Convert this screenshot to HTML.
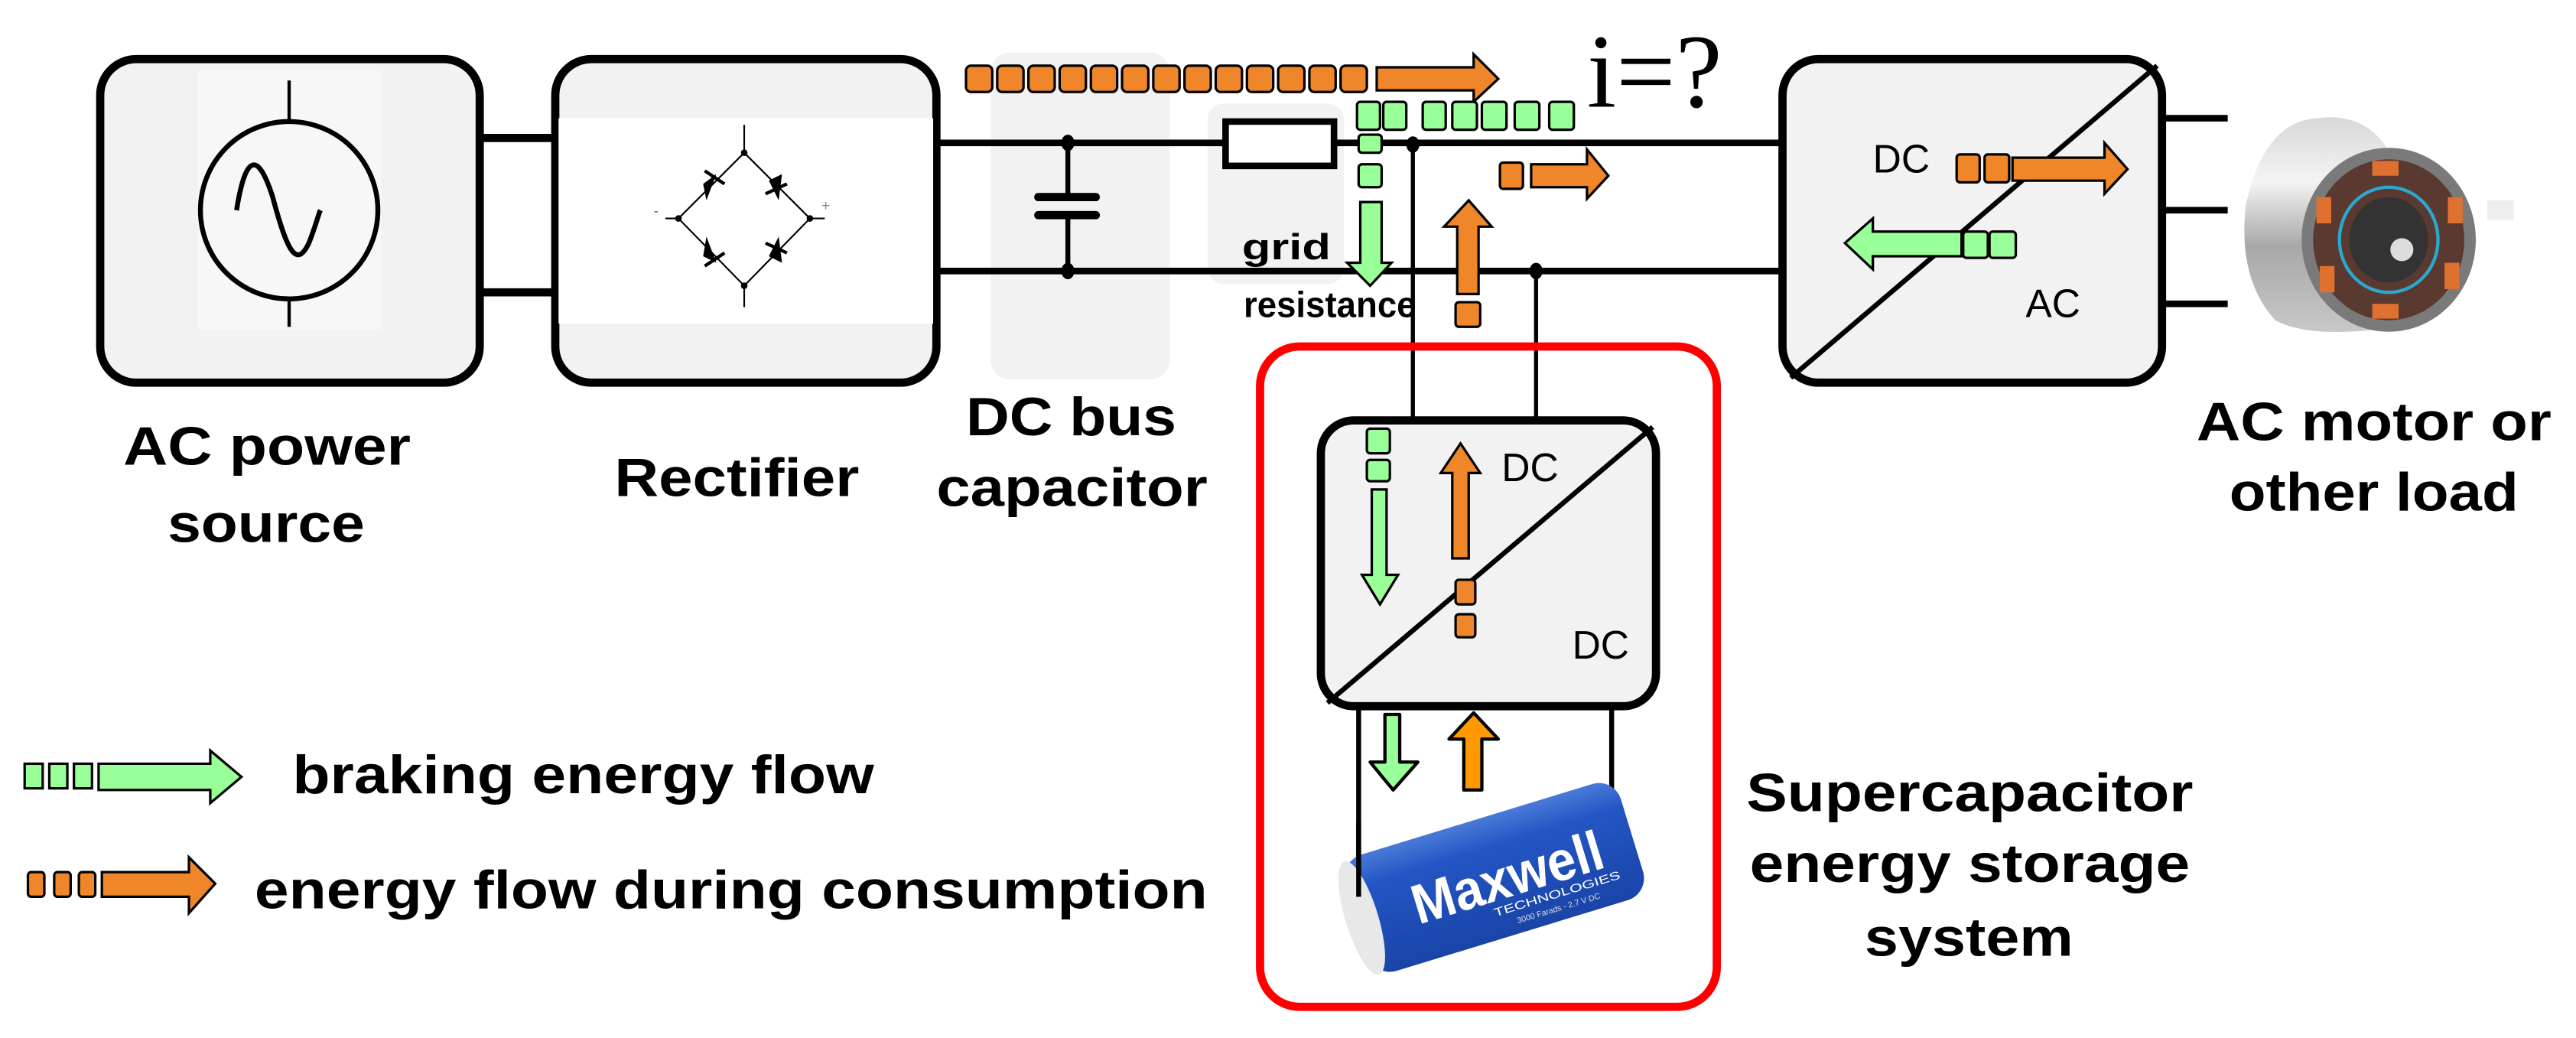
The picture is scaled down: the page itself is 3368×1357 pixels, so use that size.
<!DOCTYPE html>
<html><head><meta charset="utf-8"><style>
html,body{margin:0;padding:0;background:#fff;}
svg{display:block;}
text{font-family:"Liberation Sans",Arial,sans-serif;}
.lb{font-weight:bold;font-size:33px;fill:#000;}
</style></head><body>
<svg width="3368" height="1357" viewBox="0 0 1568 632" preserveAspectRatio="none" xmlns="http://www.w3.org/2000/svg">
<defs>
<linearGradient id="silver" x1="0" y1="0" x2="0" y2="1">
<stop offset="0" stop-color="#d8d8d8"/><stop offset="0.3" stop-color="#f4f4f4"/><stop offset="0.6" stop-color="#a8a8a8"/><stop offset="1" stop-color="#c8c8c8"/>
</linearGradient>
<linearGradient id="blue" x1="0" y1="0" x2="0" y2="1">
<stop offset="0" stop-color="#4a7ad8"/><stop offset="0.25" stop-color="#2356c4"/><stop offset="1" stop-color="#1a44a8"/>
</linearGradient>
</defs>

<rect x="603" y="32" width="109" height="199" rx="12" fill="#f2f2f2"/>
<rect x="735" y="63" width="83" height="110" rx="10" fill="#f2f2f2"/>

<rect x="61" y="36" width="231" height="197" rx="22" fill="#f2f2f2" stroke="#000" stroke-width="5"/>
<rect x="120" y="43" width="112" height="158" fill="#f7f7f7"/>
<line x1="176" y1="49" x2="176" y2="74" stroke="#000" stroke-width="2"/>
<line x1="176" y1="182" x2="176" y2="199" stroke="#000" stroke-width="2"/>
<ellipse cx="176" cy="128" rx="54" ry="54" fill="none" stroke="#000" stroke-width="3"/>
<path d="M144 128 C150 90 158 95 166 120 C174 150 180 165 188 148 C192 138 194 130 195 128" fill="none" stroke="#000" stroke-width="3"/>

<line x1="292" y1="84" x2="338" y2="84" stroke="#000" stroke-width="5"/>
<line x1="292" y1="178" x2="338" y2="178" stroke="#000" stroke-width="5"/>

<rect x="338" y="36" width="232" height="197" rx="22" fill="#f2f2f2" stroke="#000" stroke-width="5"/>
<rect x="340" y="72" width="228" height="125" fill="#fff"/>
<g stroke="#000" stroke-width="1" fill="none">
<path d="M453 93 L493 133 L453 174 L413 133 Z"/>
<line x1="453" y1="76" x2="453" y2="93"/><line x1="453" y1="174" x2="453" y2="187"/>
<line x1="405" y1="133" x2="413" y2="133"/><line x1="493" y1="133" x2="502" y2="133"/>
</g>
<g fill="#000">
<circle cx="453" cy="93" r="2"/><circle cx="453" cy="174" r="2"/><circle cx="413" cy="133" r="2"/><circle cx="493" cy="133" r="2"/>
<polygon points="428,112 436,106 430,122"/><line x1="429" y1="104" x2="441" y2="112" stroke="#000" stroke-width="2"/>
<polygon points="468,110 476,106 474,122"/><line x1="466" y1="118" x2="479" y2="112" stroke="#000" stroke-width="2"/>
<polygon points="428,156 436,160 430,144"/><line x1="429" y1="162" x2="441" y2="154" stroke="#000" stroke-width="2"/>
<polygon points="468,156 476,160 474,144"/><line x1="466" y1="148" x2="479" y2="154" stroke="#000" stroke-width="2"/>
</g>
<text x="398" y="131" font-size="8" fill="#555">-</text>
<text x="500" y="128" font-size="9" fill="#888">+</text>

<line x1="570" y1="87" x2="745" y2="87" stroke="#000" stroke-width="4"/>
<line x1="812" y1="87" x2="1085" y2="87" stroke="#000" stroke-width="4"/>
<line x1="570" y1="165" x2="1085" y2="165" stroke="#000" stroke-width="4"/>
<line x1="650" y1="87" x2="650" y2="120" stroke="#000" stroke-width="3"/>
<line x1="650" y1="130" x2="650" y2="165" stroke="#000" stroke-width="3"/>
<line x1="632" y1="120" x2="667" y2="120" stroke="#000" stroke-width="5" stroke-linecap="round"/>
<line x1="632" y1="131" x2="667" y2="131" stroke="#000" stroke-width="5" stroke-linecap="round"/>
<ellipse cx="650" cy="87" rx="4" ry="5"/><ellipse cx="650" cy="165" rx="4" ry="5"/>
<rect x="746" y="74" width="66" height="27" fill="#fff" stroke="#000" stroke-width="4"/>

<line x1="860" y1="87" x2="860" y2="256" stroke="#000" stroke-width="2.5"/>
<line x1="935" y1="165" x2="935" y2="256" stroke="#000" stroke-width="2.5"/>
<ellipse cx="860" cy="88" rx="4" ry="5"/><ellipse cx="935" cy="165" rx="4" ry="5"/>

<rect x="1085" y="36" width="231" height="197" rx="22" fill="#f2f2f2" stroke="#000" stroke-width="5"/>
<line x1="1090" y1="230" x2="1313" y2="40" stroke="#000" stroke-width="3"/>
<text x="1140" y="105" font-size="24" fill="#000">DC</text>
<text x="1233" y="193" font-size="24" fill="#000">AC</text>
<line x1="1316" y1="72" x2="1356" y2="72" stroke="#000" stroke-width="4"/>
<line x1="1316" y1="128" x2="1356" y2="128" stroke="#000" stroke-width="4"/>
<line x1="1316" y1="185" x2="1356" y2="185" stroke="#000" stroke-width="4"/>

<path d="M1410 72 Q1378 74 1367 125 Q1362 170 1385 195 Q1405 206 1452 200 L1454 92 Q1440 68 1410 72 Z" fill="url(#silver)"/>
<ellipse cx="1454" cy="146" rx="53" ry="56" fill="#7a7a7a"/>
<ellipse cx="1454" cy="146" rx="46" ry="49" fill="#5a3a30"/>
<g fill="#e07030">
<rect x="1444" y="98" width="16" height="9"/><rect x="1444" y="185" width="16" height="9"/>
<rect x="1410" y="120" width="9" height="16"/><rect x="1490" y="120" width="9" height="16"/>
<rect x="1412" y="162" width="9" height="16"/><rect x="1488" y="160" width="9" height="16"/>
</g>
<ellipse cx="1454" cy="146" rx="30" ry="32" fill="none" stroke="#2aa8d0" stroke-width="2"/>
<ellipse cx="1454" cy="146" rx="24" ry="26" fill="#333"/>
<circle cx="1462" cy="152" r="7" fill="#ddd"/>
<rect x="1514" y="122" width="16" height="12" fill="#eee"/>

<text x="966" y="65" style="font-family:'Liberation Serif',serif;font-size:64px" fill="#000">i=?</text>

<g fill="#f0862a" stroke="#000" stroke-width="1.5">
<rect x="588" y="40" width="16" height="16" rx="3"/><rect x="607" y="40" width="16" height="16" rx="3"/>
<rect x="626" y="40" width="16" height="16" rx="3"/><rect x="645" y="40" width="16" height="16" rx="3"/>
<rect x="664" y="40" width="16" height="16" rx="3"/><rect x="683" y="40" width="16" height="16" rx="3"/>
<rect x="702" y="40" width="16" height="16" rx="3"/><rect x="721" y="40" width="16" height="16" rx="3"/>
<rect x="740" y="40" width="16" height="16" rx="3"/><rect x="759" y="40" width="16" height="16" rx="3"/>
<rect x="778" y="40" width="16" height="16" rx="3"/><rect x="797" y="40" width="16" height="16" rx="3"/>
<rect x="816" y="40" width="16" height="16" rx="3"/>
<polygon points="838,41 897,41 897,33 912,48 897,62 897,55 838,55"/>
</g>
<g fill="#99ff99" stroke="#000" stroke-width="1.5">
<rect x="826" y="62" width="14" height="17" rx="2"/><rect x="842" y="62" width="14" height="17" rx="2"/>
<rect x="866" y="62" width="14" height="17" rx="2"/><rect x="884" y="62" width="15" height="17" rx="2"/>
<rect x="902" y="62" width="15" height="17" rx="2"/><rect x="922" y="62" width="15" height="17" rx="2"/>
<rect x="943" y="62" width="15" height="17" rx="2"/>
<rect x="827" y="82" width="14" height="11" rx="2"/><rect x="827" y="100" width="14" height="14" rx="2"/>
<polygon points="828,123 841,123 841,160 847,160 834,174 820,160 828,160"/>
</g>
<g fill="#f0862a" stroke="#000" stroke-width="1.5">
<rect x="913" y="99" width="14" height="16" rx="2"/>
<polygon points="932,100 966,100 966,91 979,107 966,121 966,114 932,114"/>
<polygon points="887,179 900,179 900,138 908,138 894,122 879,138 887,138"/>
<rect x="886" y="184" width="15" height="15" rx="2"/>
</g>
<text x="756" y="158" font-weight="bold" font-size="22" textLength="54" lengthAdjust="spacingAndGlyphs">grid</text>
<text x="757" y="193" font-weight="bold" font-size="22" textLength="105" lengthAdjust="spacingAndGlyphs">resistance</text>

<g stroke="#000" stroke-width="1.5">
<rect x="1191" y="94" width="14" height="17" rx="2" fill="#f0862a"/><rect x="1208" y="94" width="15" height="17" rx="2" fill="#f0862a"/>
<polygon points="1225,96 1281,96 1281,87 1295,103 1281,118 1281,110 1225,110" fill="#f0862a"/>
<polygon points="1194,141 1140,141 1140,133 1123,148 1140,164 1140,156 1194,156" fill="#99ff99"/>
<rect x="1195" y="141" width="15" height="16" rx="2" fill="#99ff99"/><rect x="1211" y="141" width="16" height="16" rx="2" fill="#99ff99"/>
</g>

<rect x="767" y="211" width="278" height="402" rx="24" fill="none" stroke="#ff0000" stroke-width="5"/>

<rect x="804" y="256" width="204" height="174" rx="20" fill="#f2f2f2" stroke="#000" stroke-width="5"/>
<line x1="808" y1="428" x2="1006" y2="260" stroke="#000" stroke-width="3"/>
<text x="914" y="293" font-size="24">DC</text>
<text x="957" y="401" font-size="24">DC</text>
<g stroke="#000" stroke-width="1.5">
<rect x="832" y="261" width="14" height="15" rx="2" fill="#99ff99"/><rect x="832" y="280" width="14" height="13" rx="2" fill="#99ff99"/>
<polygon points="835,298 844,298 844,350 851,350 840,368 829,350 835,350" fill="#99ff99"/>
<polygon points="884,340 894,340 894,288 901,288 889,270 877,288 884,288" fill="#f0862a"/>
<rect x="886" y="353" width="12" height="15" rx="2" fill="#f0862a"/><rect x="886" y="374" width="12" height="14" rx="2" fill="#f0862a"/>
</g>

<line x1="827" y1="430" x2="827" y2="546" stroke="#000" stroke-width="3"/>
<line x1="981" y1="430" x2="981" y2="490" stroke="#000" stroke-width="3"/>
<g stroke="#000" stroke-width="2" stroke-linejoin="round">
<polygon points="843,435 852,435 852,464 863,464 848,481 834,464 843,464" fill="#99ff99"/>
<polygon points="891,481 902,481 902,450 912,450 897,434 882,450 891,450" fill="#ff9900"/>
</g>

<g transform="translate(907,534) rotate(-17)">
<rect x="-85" y="-36" width="175" height="74" rx="14" fill="url(#blue)"/>
<ellipse cx="-82" cy="1" rx="10" ry="36" fill="#e8e8e8"/>
<text x="-50" y="15" font-weight="bold" font-size="34" fill="#fff" textLength="120" lengthAdjust="spacingAndGlyphs">Maxwell</text>
<text x="-4" y="24" font-size="7" fill="#fff" textLength="80" lengthAdjust="spacingAndGlyphs">TECHNOLOGIES</text>
<text x="8" y="32" font-size="5" fill="#ddd">3000 Farads - 2.7 V DC</text>
</g>
<line x1="827" y1="500" x2="827" y2="546" stroke="#000" stroke-width="3"/>

<g stroke="#000" stroke-width="1.5">
<rect x="15" y="465" width="11" height="15" fill="#99ff99"/><rect x="30" y="465" width="11" height="15" fill="#99ff99"/><rect x="45" y="465" width="11" height="15" fill="#99ff99"/>
<polygon points="60,465 128,465 128,457 147,473 128,489 128,481 60,481" fill="#99ff99"/>
<rect x="17" y="531" width="10" height="15" rx="2" fill="#f0862a"/><rect x="33" y="531" width="10" height="15" rx="2" fill="#f0862a"/><rect x="48" y="531" width="10" height="15" rx="2" fill="#f0862a"/>
<polygon points="62,531 115,531 115,522 131,538 115,556 115,546 62,546" fill="#f0862a"/>
</g>
<text class="lb" x="178" y="483" textLength="354" lengthAdjust="spacingAndGlyphs">braking energy flow</text>
<text class="lb" x="155" y="553" textLength="580" lengthAdjust="spacingAndGlyphs">energy flow during consumption</text>

<text class="lb" x="75" y="283" textLength="175" lengthAdjust="spacingAndGlyphs">AC power</text>
<text class="lb" x="102" y="330" textLength="120" lengthAdjust="spacingAndGlyphs">source</text>
<text class="lb" x="374" y="302" textLength="149" lengthAdjust="spacingAndGlyphs">Rectifier</text>
<text class="lb" x="588" y="265" textLength="128" lengthAdjust="spacingAndGlyphs">DC bus</text>
<text class="lb" x="570" y="308" textLength="165" lengthAdjust="spacingAndGlyphs">capacitor</text>
<text class="lb" x="1337" y="268" textLength="216" lengthAdjust="spacingAndGlyphs">AC motor or</text>
<text class="lb" x="1357" y="311" textLength="176" lengthAdjust="spacingAndGlyphs">other load</text>
<text class="lb" x="1063" y="494" textLength="272" lengthAdjust="spacingAndGlyphs">Supercapacitor</text>
<text class="lb" x="1065" y="537" textLength="268" lengthAdjust="spacingAndGlyphs">energy storage</text>
<text class="lb" x="1135" y="582" textLength="127" lengthAdjust="spacingAndGlyphs">system</text>
</svg>
</body></html>
